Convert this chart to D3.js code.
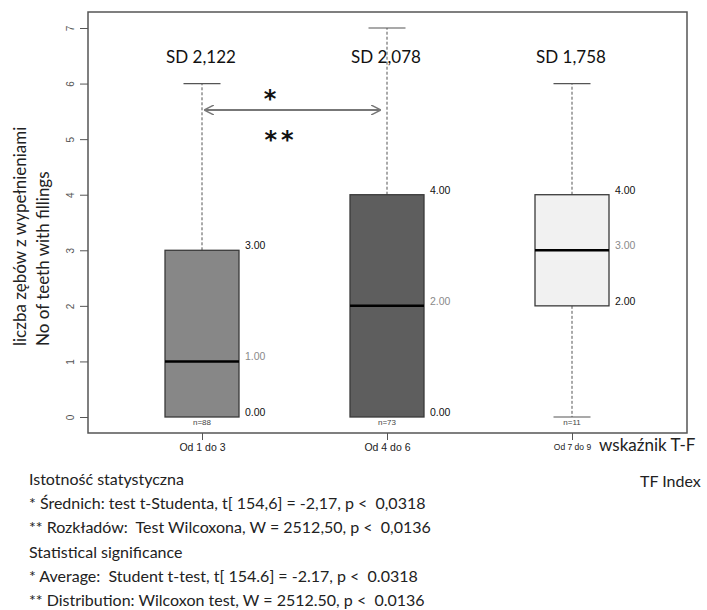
<!DOCTYPE html>
<html>
<head>
<meta charset="utf-8">
<script src="https://cdn.jsdelivr.net/npm/d3@7"></script>
<style>
  body { margin: 0; background: #fff; }
  svg text { font-family: Lato, "Liberation Sans", sans-serif; }
  .tick-lab { font-family: "Liberation Sans", Arial, sans-serif !important; }
  .star { font-family: "DejaVu Sans", sans-serif !important; font-weight: bold; }
  .note { white-space: pre; }
</style>
</head>
<body>
<svg id="chart" width="707" height="610"></svg>
<script>
// box plot data
var categories = ["Od 1 do 3", "Od 4 do 6", "Od 7 do 9"];
var whiskerLow = [0, 0, 0];
var q1 = [0, 0, 2];
var median = [1, 2, 3];
var q3 = [3, 4, 4];
var whiskerHigh = [6, 7, 6];
var nLabels = ["n=88", "n=73", "n=11"];
var sdLabels = ["SD 2,122", "SD 2,078", "SD 1,758"];
var boxColors = ["#878787", "#5e5e5e", "#f1f1f1"];
var yTicks = [0, 1, 2, 3, 4, 5, 6, 7];

var notes = [
  "Istotność statystyczna",
  "* Średnich: test t-Studenta, t[ 154,6] = -2,17, p <  0,0318",
  "** Rozkładów:  Test Wilcoxona, W = 2512,50, p <  0,0136",
  "Statistical significance",
  "* Average:  Student t-test, t[ 154.6] = -2.17, p <  0.0318",
  "** Distribution: Wilcoxon test, W = 2512.50, p <  0.0136"
];

var svg = d3.select("#chart");
var frame = {left: 88, top: 12, right: 687, bottom: 433};

var x = d3.scalePoint()
    .domain(categories)
    .range([202, 572]);
var y = d3.scaleLinear()
    .domain([0, 7])
    .range([417, 28]);

var boxW = 74, capW = 37;

// frame
svg.append("rect")
    .attr("x", frame.left).attr("y", frame.top)
    .attr("width", frame.right - frame.left)
    .attr("height", frame.bottom - frame.top)
    .attr("fill", "none").attr("stroke", "#555").attr("stroke-width", 1.5);

// y axis (R style, rotated labels)
var yAxis = d3.axisLeft(y).tickValues(yTicks).tickSize(8).tickFormat(d3.format("d"));
var gy = svg.append("g")
    .attr("transform", "translate(" + frame.left + ",0)")
    .call(yAxis);
gy.select(".domain").remove();
gy.selectAll(".tick line").attr("stroke", "#555");
gy.selectAll(".tick text")
    .attr("class", "tick-lab")
    .attr("fill", "#555")
    .attr("font-size", 10)
    .attr("x", 0).attr("dy", 0)
    .attr("text-anchor", "middle")
    .attr("transform", "translate(-17,0) rotate(-90)")
    .attr("dominant-baseline", "middle");

// x axis
var xAxis = d3.axisBottom(x).tickSize(7).tickPadding(4);
var gx = svg.append("g")
    .attr("transform", "translate(0," + frame.bottom + ")")
    .call(xAxis);
gx.select(".domain").remove();
gx.selectAll(".tick line").attr("stroke", "#555");
gx.selectAll(".tick text")
    .attr("class", "tick-lab")
    .attr("fill", "#222")
    .attr("font-size", function(d, i) { return i === 2 ? 8.5 : 10.5; });

var idx = d3.range(categories.length);
var boxes = svg.append("g").selectAll("g")
    .data(idx)
  .enter().append("g");

// whiskers
boxes.append("line")
    .attr("x1", function(i) { return x(categories[i]); })
    .attr("x2", function(i) { return x(categories[i]); })
    .attr("y1", function(i) { return y(q3[i]); })
    .attr("y2", function(i) { return y(whiskerHigh[i]); })
    .attr("stroke", "#555").attr("stroke-dasharray", "3,2");
boxes.append("line")
    .attr("x1", function(i) { return x(categories[i]); })
    .attr("x2", function(i) { return x(categories[i]); })
    .attr("y1", function(i) { return y(q1[i]); })
    .attr("y2", function(i) { return y(whiskerLow[i]); })
    .attr("stroke", "#555").attr("stroke-dasharray", "3,2");
boxes.append("line")
    .attr("x1", function(i) { return x(categories[i]) - capW / 2; })
    .attr("x2", function(i) { return x(categories[i]) + capW / 2; })
    .attr("y1", function(i) { return y(whiskerHigh[i]); })
    .attr("y2", function(i) { return y(whiskerHigh[i]); })
    .attr("stroke", "#555").attr("stroke-width", 1.2);
boxes.filter(function(i) { return whiskerLow[i] < q1[i]; }).append("line")
    .attr("x1", function(i) { return x(categories[i]) - capW / 2; })
    .attr("x2", function(i) { return x(categories[i]) + capW / 2; })
    .attr("y1", function(i) { return y(whiskerLow[i]); })
    .attr("y2", function(i) { return y(whiskerLow[i]); })
    .attr("stroke", "#555").attr("stroke-width", 1.2);

// boxes
boxes.append("rect")
    .attr("x", function(i) { return x(categories[i]) - boxW / 2; })
    .attr("y", function(i) { return y(q3[i]); })
    .attr("width", boxW)
    .attr("height", function(i) { return y(q1[i]) - y(q3[i]); })
    .attr("fill", function(i) { return boxColors[i]; })
    .attr("stroke", "#3a3a3a").attr("stroke-width", 1.3);

// medians
boxes.append("line")
    .attr("x1", function(i) { return x(categories[i]) - boxW / 2; })
    .attr("x2", function(i) { return x(categories[i]) + boxW / 2; })
    .attr("y1", function(i) { return y(median[i]); })
    .attr("y2", function(i) { return y(median[i]); })
    .attr("stroke", "#000").attr("stroke-width", 2.5);

// value labels at right of box
function valLabel(arr, color) {
  boxes.append("text")
      .attr("class", "tick-lab")
      .attr("x", function(i) { return x(categories[i]) + boxW / 2 + 6; })
      .attr("y", function(i) { return y(arr[i]); })
      .attr("dy", "-0.1em")
      .attr("font-size", 10.5)
      .attr("fill", color)
      .text(function(i) { return arr[i].toFixed(2); });
}
valLabel(q3, "#111");
valLabel(q1, "#111");
valLabel(median, "#8a8a8a");

// n labels
boxes.append("text")
    .attr("class", "tick-lab")
    .attr("x", function(i) { return x(categories[i]); })
    .attr("y", function(i) { return y(whiskerLow[i]) + 8; })
    .attr("text-anchor", "middle")
    .attr("font-size", 8)
    .attr("fill", "#444")
    .text(function(i) { return nLabels[i]; });

// SD labels
boxes.append("text")
    .attr("x", function(i) { return x(categories[i]) - 1; })
    .attr("y", 63)
    .attr("text-anchor", "middle")
    .attr("font-size", 17)
    .attr("fill", "#111")
    .text(function(i) { return sdLabels[i]; });

// significance arrow between groups 1 and 2
var defs = svg.append("defs");
defs.append("marker")
    .attr("id", "head")
    .attr("viewBox", "0 0 10 10")
    .attr("refX", 9).attr("refY", 5)
    .attr("markerWidth", 10).attr("markerHeight", 10)
    .attr("markerUnits", "userSpaceOnUse")
    .attr("orient", "auto-start-reverse")
  .append("path")
    .attr("d", "M0,0 L10,5 L0,10")
    .attr("fill", "none").attr("stroke", "#777").attr("stroke-width", 1.5);
var arrowY = 110;
svg.append("line")
    .attr("x1", x(categories[0]) + 3).attr("x2", x(categories[1]) - 7)
    .attr("y1", arrowY).attr("y2", arrowY)
    .attr("stroke", "#777").attr("stroke-width", 1.8)
    .attr("marker-start", "url(#head)").attr("marker-end", "url(#head)");
svg.append("text")
    .attr("class", "star")
    .attr("x", 270).attr("y", 107)
    .attr("text-anchor", "middle")
    .attr("font-size", 24).attr("fill", "#111")
    .text("*");
svg.append("text")
    .attr("class", "star")
    .attr("x", 281).attr("y", 148)
    .attr("text-anchor", "middle")
    .attr("letter-spacing", 4)
    .attr("font-size", 24).attr("fill", "#111")
    .text("**");

// y axis title
var yt = svg.append("text")
    .attr("transform", "translate(0,346) rotate(-90)")
    .attr("font-size", 17).attr("fill", "#222");
yt.append("tspan").attr("x", 0).attr("y", 26).text("liczba zębów z wypełnieniami");
yt.append("tspan").attr("x", 0).attr("y", 49).text("No of teeth with fillings");

// x axis title
svg.append("text")
    .attr("x", 599).attr("y", 451)
    .attr("font-size", 17).attr("fill", "#222")
    .text("wskaźnik T-F");
svg.append("text")
    .attr("x", 640).attr("y", 487)
    .attr("font-size", 16).attr("fill", "#222")
    .text("TF Index");

// notes below the chart
svg.append("g").selectAll("text")
    .data(notes)
  .enter().append("text")
    .attr("class", "note")
    .attr("x", 29)
    .attr("y", function(d, i) { return 485 + i * 24.2; })
    .attr("font-size", 16).attr("fill", "#222")
    .text(function(d) { return d; });
</script>
</body>
</html>
